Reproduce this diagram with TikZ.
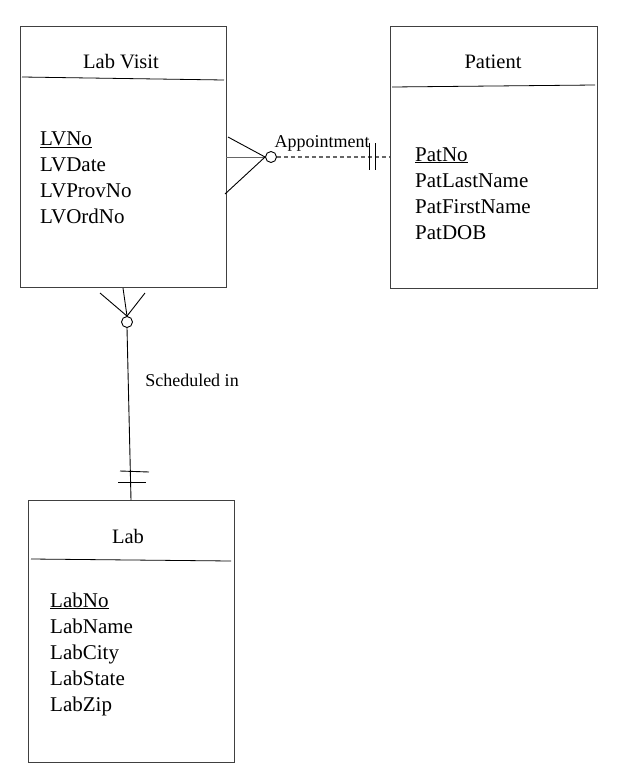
\documentclass[tikz,border=0pt]{standalone}
\usepackage{fontspec}
\setmainfont{Liberation Serif}
\begin{document}
\begin{tikzpicture}[x=1pt,y=-1pt,
  ent/.style={draw=black!75, line width=0.9pt},
  hdr/.style={draw=black, line width=0.8pt},
  ttl/.style={font=\fontsize{20.5}{22}\selectfont, anchor=base, inner sep=0pt},
  attr/.style={font=\fontsize{21}{22}\selectfont, anchor=base west, inner sep=0pt},
  lbl/.style={font=\fontsize{18}{20}\selectfont, anchor=base, inner sep=0pt},
  conn/.style={draw=black, line width=0.9pt},
  ring/.style={circle, draw=black, fill=white, line width=0.9pt, minimum size=11pt, inner sep=0pt}]
\useasboundingbox[fill=white] (0,0) rectangle (618,779);
% Lab Visit
\draw[ent] (20,26) rectangle (226,287);
\node[ttl] (lvt) at (121,68) {Lab Visit};
\draw[hdr] (22,77) -- (224,80);
\node[attr] (lv1) at (40,145) {\underline{LVNo}};
\node[attr] (lv2) at (40,171) {LVDate};
\node[attr] (lv3) at (40,197) {LVProvNo};
\node[attr] (lv4) at (40,223) {LVOrdNo};
% Patient
\draw[ent] (390,26) rectangle (597,288);
\node[ttl] (pt) at (493,68) {Patient};
\draw[hdr] (392,87) -- (595,85);
\node[attr] (p1) at (415,161) {\underline{PatNo}};
\node[attr] (p2) at (415,187) {PatLastName};
\node[attr] (p3) at (415,213) {PatFirstName};
\node[attr] (p4) at (415,239) {PatDOB};
% Lab
\draw[ent] (28,500) rectangle (234,762);
\node[ttl] (lt) at (128,543) {Lab};
\draw[hdr] (31,559) -- (231,561);
\node[attr] (l1) at (50,607) {\underline{LabNo}};
\node[attr] (l2) at (50,633) {LabName};
\node[attr] (l3) at (50,659) {LabCity};
\node[attr] (l4) at (50,685) {LabState};
\node[attr] (l5) at (50,711) {LabZip};
% Appointment relationship
\coordinate (a0) at (226,157);
\node[ring] (ra) at (271,157) {};
\coordinate (a1) at (390,157);
\draw[conn, draw=black!60] (a0) -- (ra.west);
\draw[conn] (228,137) -- (ra.west);
\draw[conn] (225,194) -- (ra.west);
\draw[draw=black!60, line width=1.1pt, dash pattern=on 4pt off 3pt] (ra.east) -- (a1);
\draw[conn] (369,143) -- (369,170);
\draw[conn] (375,143) -- (375,170);
\node[lbl] (al) at (322,147) {Appointment};
% Scheduled in relationship
\node[ring] (rs) at (127,322) {};
\coordinate (s1) at (131,500);
\draw[conn] (rs.south) -- (s1);
\draw[conn] (123,288) -- (rs.north);
\draw[conn] (100,293) -- (rs.north);
\draw[conn] (145,293) -- (rs.north);
\draw[conn] (120,471) -- (149,472);
\draw[conn] (118,482) -- (146,482);
\node[lbl] (sl) at (192,386) {Scheduled in};
\end{tikzpicture}
\end{document}
